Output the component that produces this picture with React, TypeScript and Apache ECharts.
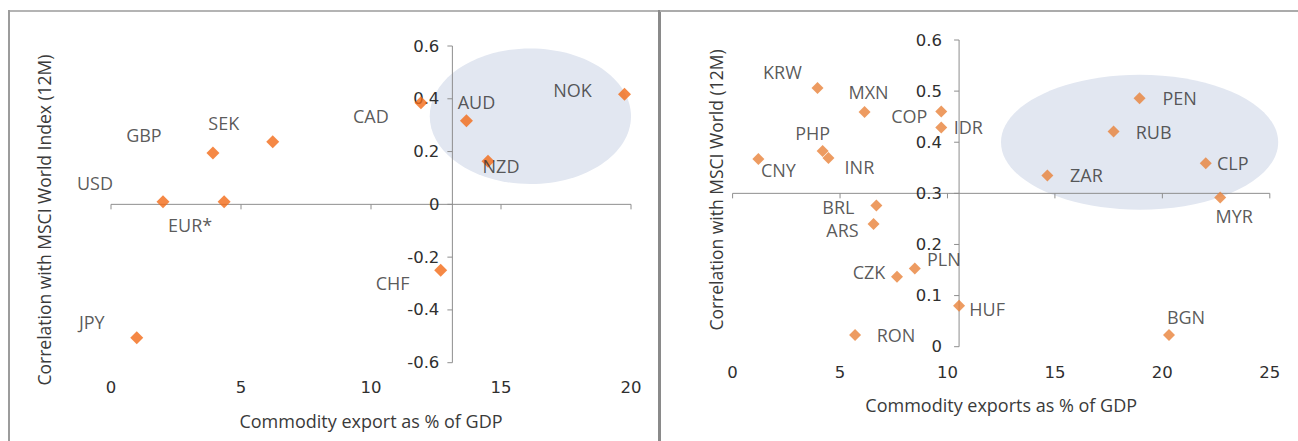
import React, { useEffect, useRef } from "react";
import * as echarts from "echarts";

// ---------- Data ----------
const leftCurrencies = ["USD", "EUR*", "GBP", "SEK", "CAD", "AUD", "NZD", "NOK", "CHF", "JPY"];
const leftExports = [2.0, 4.35, 3.92, 6.22, 11.92, 13.67, 14.5, 19.75, 12.68, 0.99];
const leftCorrelation = [0.01, 0.01, 0.195, 0.237, 0.385, 0.317, 0.163, 0.417, -0.25, -0.505];

const rightCurrencies = [
  "KRW", "MXN", "COP", "IDR", "PHP", "INR", "CNY", "BRL", "ARS", "PLN",
  "CZK", "HUF", "RON", "BGN", "PEN", "RUB", "CLP", "ZAR", "MYR",
];
const rightExports = [
  3.95, 6.14, 9.71, 9.71, 4.19, 4.46, 1.2, 6.69, 6.56, 8.48,
  7.65, 10.54, 5.7, 20.31, 18.94, 17.73, 22.02, 14.65, 22.69,
];
const rightCorrelation = [
  0.506, 0.459, 0.46, 0.429, 0.383, 0.369, 0.367, 0.276, 0.24, 0.153,
  0.137, 0.08, 0.023, 0.023, 0.486, 0.421, 0.359, 0.335, 0.292,
];

const leftXTicks = [0, 5, 10, 15, 20];
const leftYTicks = [-0.6, -0.4, -0.2, 0, 0.2, 0.4, 0.6];
const leftYTickLabels = ["-0.6", "-0.4", "-0.2", "0", "0.2", "0.4", "0.6"];
const rightXTicks = [0, 5, 10, 15, 20, 25];
const rightYTicks = [0, 0.1, 0.2, 0.3, 0.4, 0.5, 0.6];
const rightYTickLabels = ["0", "0.1", "0.2", "0.3", "0.4", "0.5", "0.6"];

// axis crossing points [x, y]
const leftCross = [13.13, 0];
const rightCross = [10.54, 0.3];
// highlight ellipses: [centre x, centre y, radius x, radius y] in data units
const leftHighlight = [16.13, 0.334, 3.87, 0.257];
const rightHighlight = [18.94, 0.4, 6.45, 0.132];

// ---------- Layout (label offsets in px from marker centre) ----------
const leftLabelOffsets = [
  [-68, -19], [-34, 23], [-69, -18], [-49, -19], [-50, 13],
  [10, -19], [13, 5], [-52, -4], [-48, 13], [-45, -16],
];
const rightLabelOffsets = [
  [-35, -16], [4, -20], [-32, 4], [27, 0], [-10, -18], [31, 9], [20, 11],
  [-38, 1], [-31, 6], [29, -9], [-28, -5], [28, 3], [41, 0], [17, -18],
  [40, 0], [40, 1], [27, 0], [39, 0], [14, 19],
];

const FONT = "'Open Sans', 'Noto Sans', sans-serif";
const NUMFONT = "'DejaVu Sans', 'Open Sans', sans-serif";
const TEXT = "#2f2f2f";
const TITLE = "#3a3a3a";
const AXIS = "#8e8e8e";
const LABEL_FS = 18;
const TICK_FS = 16.5;
const TITLE_FS = 18;

function crossAxes(
  xRange: number[],
  yRange: number[],
  xTicks: number[],
  yTicks: number[],
  yLabels: string[],
  labelGap: number
) {
  return (params: any, api: any) => {
    const cx = api.value(0);
    const cy = api.value(1);
    const pL = api.coord([xRange[0], cy]);
    const pR = api.coord([xRange[1], cy]);
    const pB = api.coord([cx, yRange[0]]);
    const pT = api.coord([cx, yRange[1]]);
    const children: any[] = [];
    const ls = { stroke: AXIS, lineWidth: 1 };
    children.push({ type: "line", shape: { x1: pL[0], y1: pL[1], x2: pR[0], y2: pR[1] }, style: ls });
    children.push({ type: "line", shape: { x1: pB[0], y1: pB[1], x2: pT[0], y2: pT[1] }, style: ls });
    xTicks.forEach((t) => {
      const p = api.coord([t, cy]);
      children.push({ type: "line", shape: { x1: p[0], y1: p[1], x2: p[0], y2: p[1] + 5 }, style: ls });
    });
    yTicks.forEach((t, i) => {
      const p = api.coord([cx, t]);
      children.push({ type: "line", shape: { x1: p[0] - 5, y1: p[1], x2: p[0], y2: p[1] }, style: ls });
      children.push({
        type: "text",
        x: p[0] - 5 - labelGap,
        y: p[1],
        style: {
          text: yLabels[i],
          align: "right",
          verticalAlign: "middle",
          fontSize: TICK_FS,
          fontFamily: NUMFONT,
          fill: TEXT,
        },
      });
    });
    return { type: "group", children };
  };
}

function ellipseItem(color: string) {
  return (params: any, api: any) => {
    const c = api.coord([api.value(0), api.value(1)]);
    const s = api.size([api.value(2), api.value(3)]);
    return {
      type: "ellipse",
      shape: { cx: c[0], cy: c[1], rx: s[0], ry: s[1] },
      style: { fill: color },
    };
  };
}

function points(names: string[], xs: number[], ys: number[], offsets: number[][]) {
  return names.map((name, i) => ({
    name,
    value: [xs[i], ys[i]],
    label: { offset: offsets[i] },
  }));
}

function xAxisOpt(gridIndex: number, max: number, name: string, margin: number) {
  return {
    type: "value",
    gridIndex,
    min: 0,
    max,
    interval: 5,
    name,
    nameLocation: "middle",
    nameGap: 49,
    nameTextStyle: { fontSize: TITLE_FS, color: TITLE, fontFamily: FONT },
    axisLine: { show: false },
    axisTick: { show: false },
    splitLine: { show: false },
    axisLabel: { margin, fontSize: TICK_FS, color: TEXT, fontFamily: NUMFONT },
  };
}

export default function App() {
  const ref = useRef<HTMLDivElement>(null);
  useEffect(() => {
    const chart = echarts.init(ref.current!, null, { renderer: "svg" });
    const scatterLabel = {
      show: true,
      position: "inside",
      formatter: "{b}",
      fontSize: LABEL_FS,
      color: TEXT,
      fontFamily: FONT,
    };
    const option: any = {
      animation: false,
      backgroundColor: "#ffffff",
      grid: [
        { left: 111, width: 520, top: 46, height: 316.7 },
        { left: 732.6, width: 537.2, top: 40, height: 306.7 },
      ],
      xAxis: [
        xAxisOpt(0, 20, "Commodity export as % of GDP", 16),
        xAxisOpt(1, 25, "Commodity exports as % of GDP", 17),
      ],
      yAxis: [
        { type: "value", gridIndex: 0, min: -0.6, max: 0.6, interval: 0.2, show: false },
        { type: "value", gridIndex: 1, min: 0, max: 0.6, interval: 0.1, show: false },
      ],
      graphic: [
        { type: "line", shape: { x1: 8, y1: 11, x2: 658, y2: 11 }, style: { stroke: "#b4b4b4", lineWidth: 2 } },
        { type: "line", shape: { x1: 9, y1: 10, x2: 9, y2: 441 }, style: { stroke: "#9c9c9c", lineWidth: 2 } },
        { type: "line", shape: { x1: 659.5, y1: 10, x2: 659.5, y2: 441 }, style: { stroke: "#8a8a8a", lineWidth: 3 } },
        { type: "line", shape: { x1: 660, y1: 11, x2: 1298, y2: 11 }, style: { stroke: "#ababab", lineWidth: 2 } },
        {
          type: "text",
          x: 44,
          y: 220,
          rotation: Math.PI / 2,
          style: {
            text: "Correlation with MSCI World Index (12M)",
            align: "center",
            verticalAlign: "middle",
            fontSize: 17.5,
            fontFamily: FONT,
            fill: TITLE,
          },
        },
        {
          type: "text",
          x: 716,
          y: 190,
          rotation: Math.PI / 2,
          style: {
            text: "Correlation with MSCI World (12M)",
            align: "center",
            verticalAlign: "middle",
            fontSize: 17.5,
            fontFamily: FONT,
            fill: TITLE,
          },
        },
      ],
      series: [
        {
          type: "custom",
          xAxisIndex: 0,
          yAxisIndex: 0,
          z: 1,
          silent: true,
          clip: false,
          renderItem: ellipseItem("#e2e7f1"),
          data: [leftHighlight],
        },
        {
          type: "custom",
          xAxisIndex: 0,
          yAxisIndex: 0,
          z: 2,
          silent: true,
          clip: false,
          renderItem: crossAxes([0, 20], [-0.6, 0.6], leftXTicks, leftYTicks, leftYTickLabels, 8),
          data: [leftCross],
        },
        {
          type: "scatter",
          xAxisIndex: 0,
          yAxisIndex: 0,
          z: 3,
          symbol: "diamond",
          symbolSize: 13,
          itemStyle: { color: "#f26a17" },
          label: scatterLabel,
          data: points(leftCurrencies, leftExports, leftCorrelation, leftLabelOffsets),
        },
        {
          type: "custom",
          xAxisIndex: 1,
          yAxisIndex: 1,
          z: 1,
          silent: true,
          clip: false,
          renderItem: ellipseItem("#e2e7f1"),
          data: [rightHighlight],
        },
        {
          type: "custom",
          xAxisIndex: 1,
          yAxisIndex: 1,
          z: 2,
          silent: true,
          clip: false,
          renderItem: crossAxes([0, 25], [0, 0.6], rightXTicks, rightYTicks, rightYTickLabels, 12),
          data: [rightCross],
        },
        {
          type: "scatter",
          xAxisIndex: 1,
          yAxisIndex: 1,
          z: 3,
          symbol: "diamond",
          symbolSize: 12,
          itemStyle: { color: "#e8823a" },
          label: scatterLabel,
          data: points(rightCurrencies, rightExports, rightCorrelation, rightLabelOffsets),
        },
      ],
    };
    chart.setOption(option);
    return () => chart.dispose();
  }, []);
  return (
    <div
      ref={ref}
      style={{ position: "fixed", left: 0, top: 0, width: 1298, height: 441, background: "#fff" }}
    />
  );
}
